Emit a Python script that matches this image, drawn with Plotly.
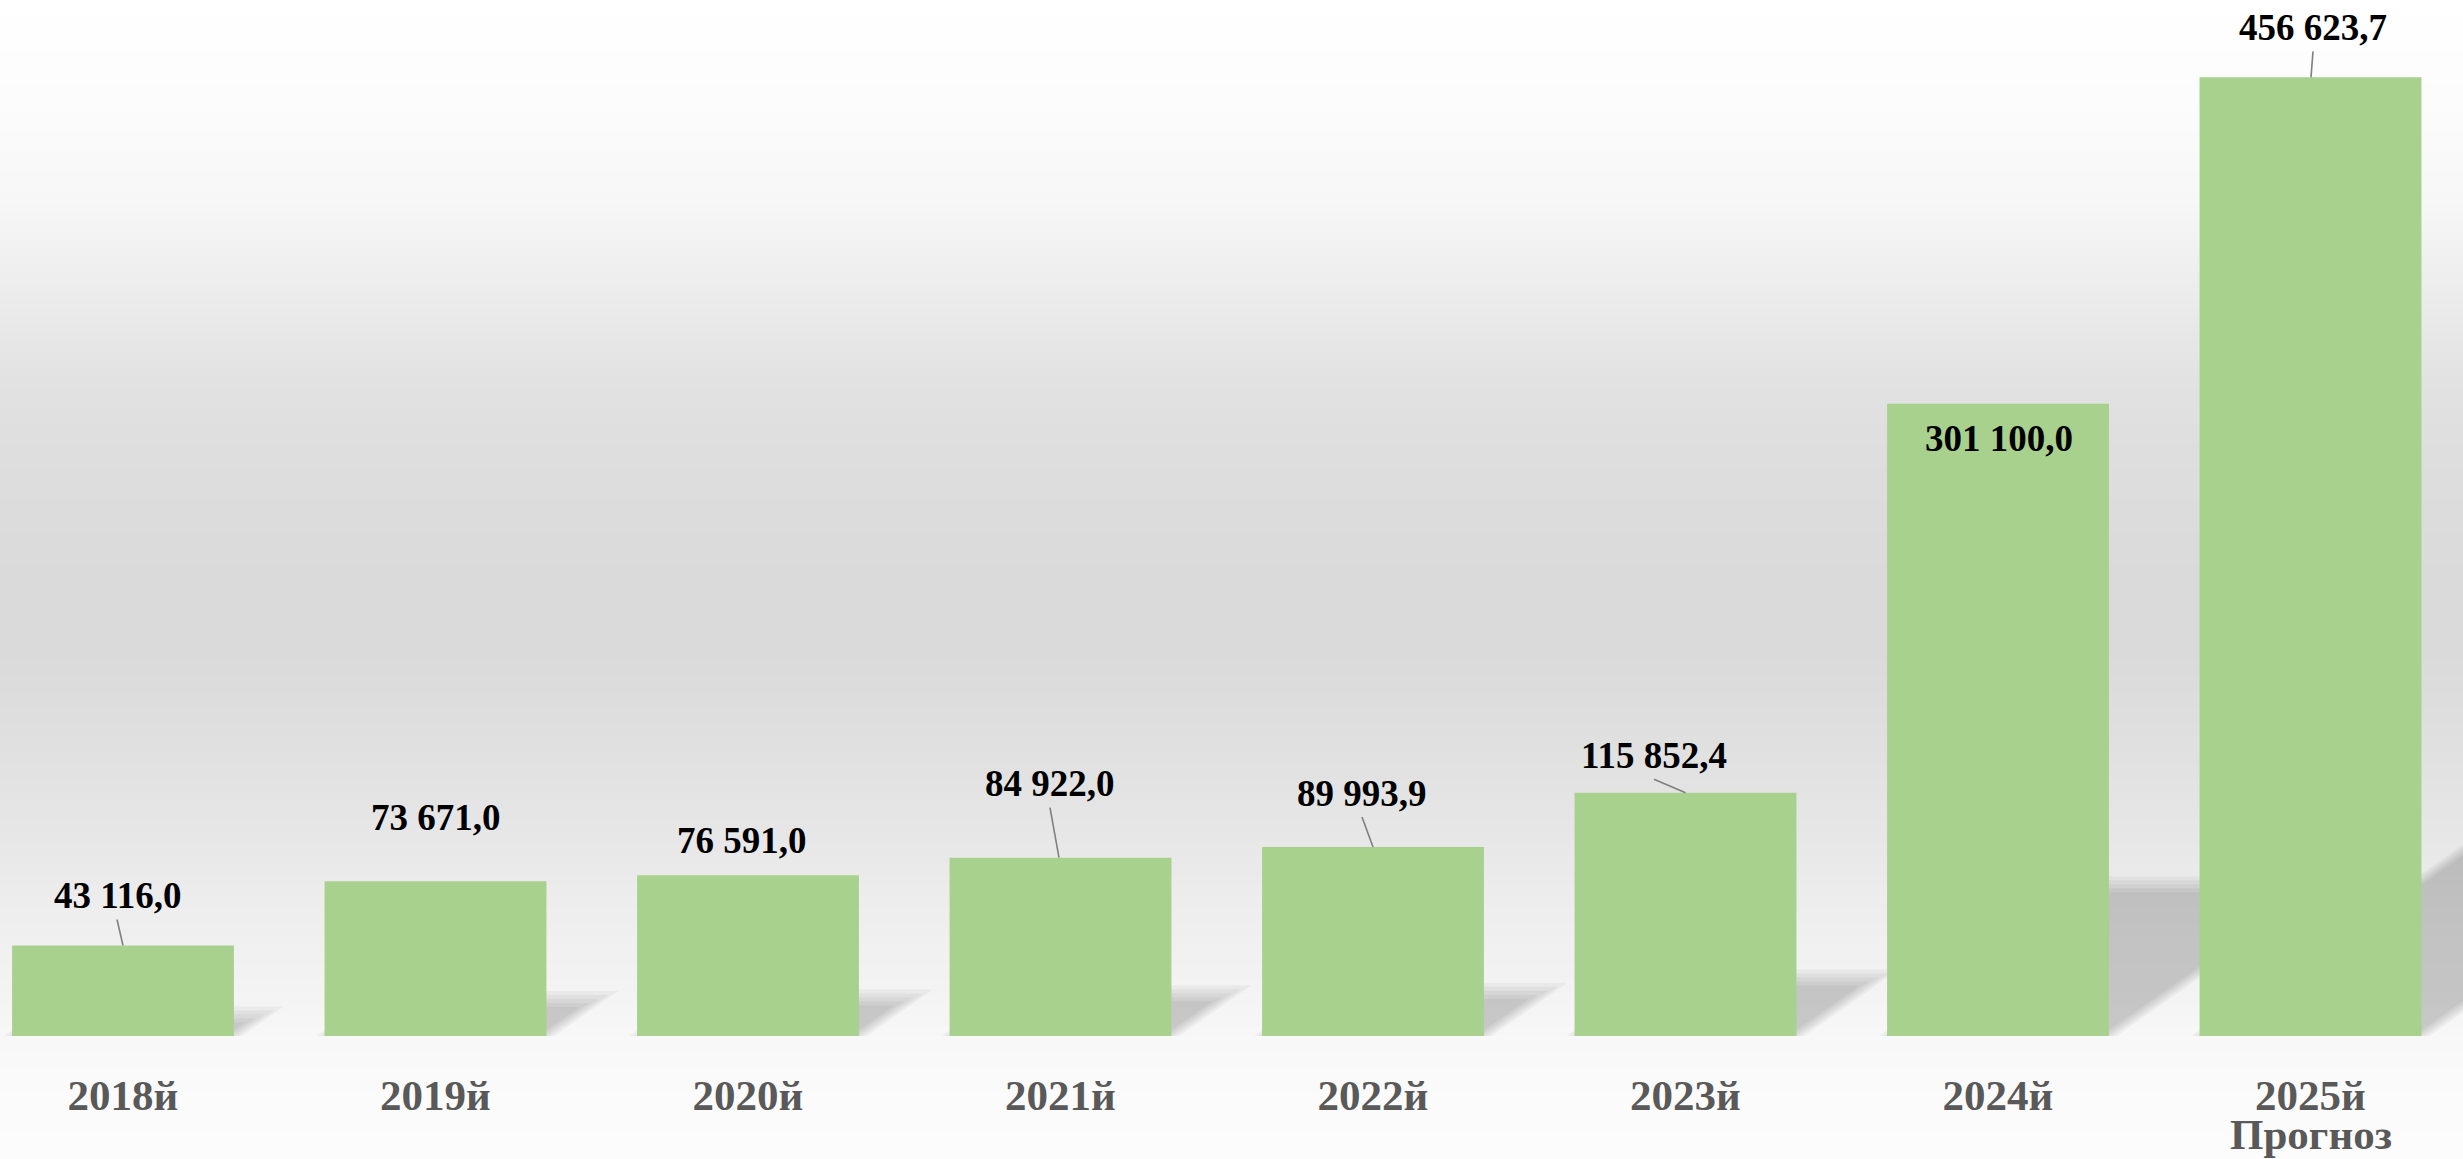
import base64
import struct
import zlib
import plotly.graph_objects as go

# ---------------- data ----------------
categories = ["2018й", "2019й", "2020й", "2021й", "2022й", "2023й", "2024й", "2025й"]
tick_labels = ["2018й", "2019й", "2020й", "2021й", "2022й", "2023й", "2024й", "2025й"]
sub_labels = ["", "", "", "", "", "", "", "Прогноз"]
values = [43116.0, 73671.0, 76591.0, 84922.0, 89993.9, 115852.4, 301100.0, 456623.7]
value_labels = ["43 116,0", "73 671,0", "76 591,0", "84 922,0", "89 993,9",
                "115 852,4", "301 100,0", "456 623,7"]

# ---------------- layout / style ----------------
W, H = 2463, 1159
M_B = 123
PLOT_H = H - M_B
Y_MAX = 493450
X_LO, X_HI = -0.3936, 7.488
BAR_W = 0.71
px_per_val = PLOT_H / Y_MAX
px_per_cat = W / (X_HI - X_LO)

# label placement (px, relative to bar-top centre; dy positive = up)
label_dx = [-6, 0, -6, -10.5, -11, -31.5, 1, 2.5]
label_dy = [50, 64, 35, 74, 54, 37.5, -35, 50]
leader = [True, False, False, True, True, True, False, True]
leader_end_dx = [0, 0, 0, -1.5, 0, 0, 0, 0.5]
LEADER_GAP = 24

SERIF = "Liberation Serif, Times New Roman, serif"

# ---------------- background gradient image ----------------
grad_stops = [(0, 255), (100, 252), (200, 247), (380, 226), (450, 222), (580, 218),
              (650, 218), (700, 221), (800, 228), (860, 233), (900, 237),
              (1000, 244), (1040, 248), (1100, 251), (1159, 252)]


def gray_at(y):
    for (y0, g0), (y1, g1) in zip(grad_stops[:-1], grad_stops[1:]):
        if y0 <= y <= y1:
            t = (y - y0) / (y1 - y0) if y1 > y0 else 0
            return int(round(g0 + (g1 - g0) * t))
    return grad_stops[-1][1]


def make_png(width, height):
    raw = b""
    for y in range(height):
        g = gray_at(y)
        raw += b"\x00" + bytes([g]) * width

    def chunk(tag, data):
        c = struct.pack(">I", len(data)) + tag + data
        return c + struct.pack(">I", zlib.crc32(tag + data) & 0xffffffff)

    png = b"\x89PNG\r\n\x1a\n"
    png += chunk(b"IHDR", struct.pack(">IIBBBBB", width, height, 8, 0, 0, 0, 0))
    png += chunk(b"IDAT", zlib.compress(raw, 9))
    png += chunk(b"IEND", b"")
    return "data:image/png;base64," + base64.b64encode(png).decode()


bg_src = make_png(4, H)

x_idx = list(range(len(categories)))

fig = go.Figure()
fig.add_trace(go.Bar(
    x=x_idx, y=values, width=BAR_W,
    marker=dict(color="#A9D18E", line=dict(width=0)),
    hoverinfo="skip", showlegend=False,
))

shapes = []
# perspective shadows (layered to fake a blur)
SH_V = 0.24     # vertical scale of shadow
SH_S = 0.34     # horizontal skew (px per px of bar height)
for i, v in enumerate(values):
    top = SH_V * v
    s = SH_S * v * px_per_val / px_per_cat
    hw = BAR_W / 2
    for d in (-8, -4, 0, 4, 8):
        dxc = d / px_per_cat
        dyv = d / px_per_val
        tp = top - dyv
        if tp <= 0:
            continue
        f = tp / top
        pts = [(i - hw + dxc, 0), (i + hw - dxc, 0),
               (i + hw - dxc + s * f, tp), (i - hw + dxc + s * f, tp)]
        path = "M " + " L ".join(f"{px:.5f},{py:.2f}" for px, py in pts) + " Z"
        shapes.append(dict(type="path", xref="x", yref="y", path=path,
                           fillcolor="rgba(0,0,0,0.04)", line=dict(width=0),
                           layer="below"))

# leader lines
for i, v in enumerate(values):
    if leader[i]:
        shapes.append(dict(type="line", xref="x", yref="y",
                           xsizemode="pixel", ysizemode="pixel",
                           xanchor=i, yanchor=v,
                           x0=label_dx[i], y0=label_dy[i] - LEADER_GAP,
                           x1=leader_end_dx[i], y1=0,
                           line=dict(color="#808080", width=1.6), layer="above"))

annotations = []
for i, v in enumerate(values):
    annotations.append(dict(
        x=i, y=v, xref="x", yref="y", text=value_labels[i], showarrow=False,
        xanchor="center", yanchor="middle",
        xshift=label_dx[i], yshift=label_dy[i],
        font=dict(family=SERIF, size=37, color="#000000", weight="bold"),
    ))
for i, t in enumerate(sub_labels):
    if t:
        annotations.append(dict(
            x=i, y=0, xref="x", yref="y", text=t, showarrow=False,
            xanchor="center", yanchor="middle", yshift=-98,
            font=dict(family=SERIF, size=43, color="#595959", weight="bold"),
        ))

fig.update_layout(
    width=W, height=H,
    margin=dict(l=0, r=0, t=0, b=M_B, pad=0),
    paper_bgcolor="#ffffff",
    plot_bgcolor="rgba(0,0,0,0)",
    showlegend=False,
    shapes=shapes,
    annotations=annotations,
    images=[dict(source=bg_src, xref="paper", yref="paper", x=0, y=1,
                 sizex=1, sizey=H / PLOT_H, xanchor="left", yanchor="top",
                 sizing="stretch", layer="below")],
    xaxis=dict(range=[X_LO, X_HI], tickmode="array", tickvals=x_idx,
               ticktext=tick_labels, showgrid=False, zeroline=False,
               showline=False, ticks="", ticklabelstandoff=30,
               tickfont=dict(family=SERIF, size=43, color="#595959", weight="bold"),
               fixedrange=True),
    yaxis=dict(range=[0, Y_MAX], showgrid=False, zeroline=False, showline=False,
               showticklabels=False, ticks="", fixedrange=True),
)

fig.write_html(
    "out.html",
    config={"displayModeBar": False},
    post_script="document.body.style.margin='0';document.body.style.padding='0';"
                "document.body.style.overflow='hidden';",
)
